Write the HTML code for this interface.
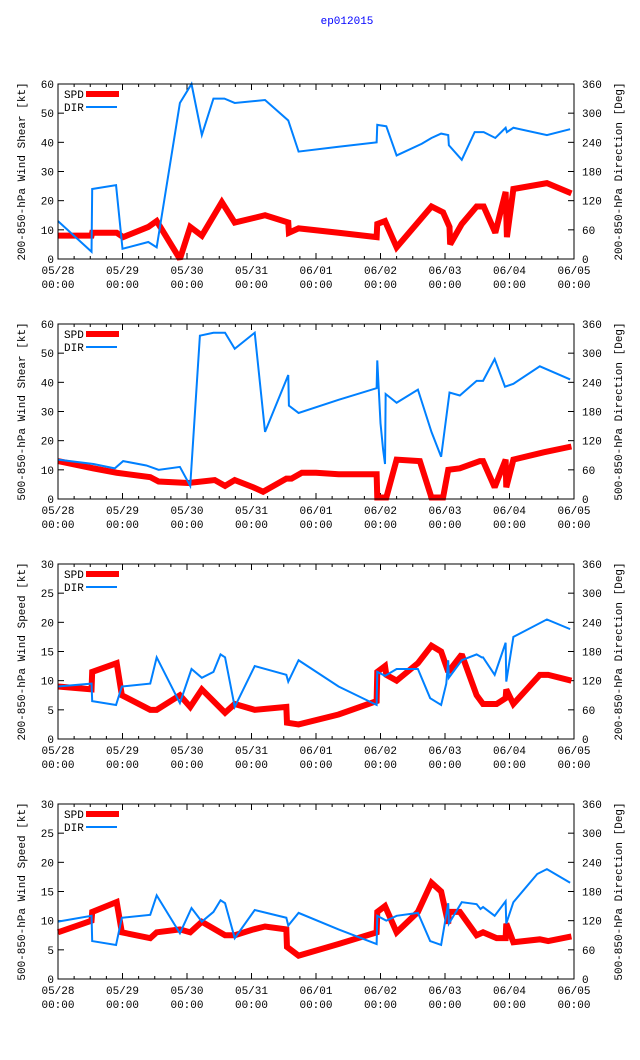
<!DOCTYPE html>
<html><head><meta charset="utf-8">
<style>
body{margin:0;background:#fff;}
svg{display:block;font-family:"Liberation Mono","DejaVu Sans Mono",monospace;font-size:11px;}
</style></head>
<body>
<svg id="chart" width="640" height="1060" viewBox="0 0 640 1060" xmlns="http://www.w3.org/2000/svg">
<rect width="640" height="1060" fill="#fff"/>
<text x="347" y="24" fill="#0000ff" text-anchor="middle">ep012015</text>
</svg>
<script>
// x tick labels
const xTickDates = ["05/28","05/29","05/30","05/31","06/01","06/02","06/03","06/04","06/05"];
const panelTitles = ["200-850-hPa Wind Shear [kt]","500-850-hPa Wind Shear [kt]","200-850-hPa Wind Speed [kt]","500-850-hPa Wind Speed [kt]"];
const panelMax = [60,60,30,30];
const rightTicks = [0,60,120,180,240,300,360];
// times in days since 05/28 00:00
const p1SpdT = [0,0.52,0.53,0.91,1.01,1.4,1.53,1.89,2.05,2.23,2.54,2.74,3.21,3.57,3.58,3.73,4.35,4.94,4.95,5.07,5.25,5.79,5.97,6.07,6.08,6.26,6.49,6.6,6.78,6.94,6.96,7.06,7.58,7.96];
const p1SpdV = [8,8,9,9,7.5,11,13,0,11,8,19.5,12.5,15,12.5,9,10.5,9,7.5,12,13,4,18,16,11,5,12,18,18,9,23,7.5,24,26,22.5];
const p1DirT = [0,0.52,0.53,0.9,1.0,1.4,1.53,1.89,2.07,2.23,2.41,2.58,2.74,3.21,3.57,3.73,4.35,4.94,4.95,5.09,5.25,5.64,5.79,5.94,6.05,6.06,6.26,6.46,6.6,6.78,6.94,6.96,7.06,7.58,7.94];
const p1DirV = [78,15,144,152,21,35,24,321,360,255,330,330,321,327,285,221,231,240,276,273,213,237,249,258,255,234,204,261,261,249,270,261,270,255,267];
const p2SpdT = [0,0.55,0.91,1.43,1.56,2.02,2.43,2.59,2.74,3.03,3.18,3.54,3.62,3.78,4.0,4.35,4.94,4.95,5.09,5.25,5.61,5.79,5.97,6.05,6.23,6.54,6.59,6.77,6.94,6.95,7.06,7.53,7.96];
const p2SpdV = [13,10.5,9,7.5,6,5.5,6.5,4.5,6.5,4,2.5,7,7,9,9,8.5,8.5,0.5,0.5,13.5,13,0.5,0.5,10,10.5,13,13,4,13.5,4,13.5,16,18];
const p2DirT = [0,0.55,0.88,1.01,1.37,1.56,1.89,2.05,2.2,2.41,2.59,2.74,3.05,3.21,3.57,3.58,3.73,4.35,4.94,4.95,5.0,5.04,5.07,5.08,5.25,5.58,5.79,5.94,6.07,6.23,6.49,6.59,6.77,6.93,7.06,7.47,7.94];
const p2DirV = [81,72,63,78,69,60,66,27,336,342,342,309,342,138,255,192,177,204,228,285,156,102,72,216,198,225,138,87,219,213,243,243,288,231,237,273,246];
const p3SpdT = [0,0.52,0.53,0.91,0.99,1.43,1.53,1.89,2.05,2.23,2.59,2.74,3.05,3.54,3.55,3.73,4.35,4.94,4.95,5.07,5.09,5.25,5.58,5.79,5.94,6.05,6.26,6.49,6.59,6.8,6.94,6.95,7.06,7.47,7.6,7.96];
const p3SpdV = [9,8.5,11.5,13,7.5,5,5,7.5,5.5,8.5,4.5,6,5,5.5,2.8,2.5,4.2,6.5,11.5,12.5,11,10,13,16,15,11.5,14.5,7.5,6,6,7,8.5,6,11,11,10];
const p3DirT = [0,0.52,0.53,0.9,0.99,1.43,1.53,1.89,2.07,2.23,2.41,2.52,2.59,2.74,3.05,3.54,3.57,3.73,4.35,4.94,4.95,5.07,5.25,5.58,5.77,5.94,6.02,6.05,6.06,6.26,6.49,6.57,6.59,6.77,6.94,6.95,7.06,7.58,7.94];
const p3DirV = [108,114,78,70,108,114,168,74,144,126,138,174,168,66,150,132,118,162,108,70,138,130,144,144,84,70,114,162,126,162,174,168,168,132,198,118,210,246,226];
const p4SpdT = [0,0.52,0.53,0.91,0.99,1.43,1.53,1.89,2.05,2.23,2.59,2.74,3.03,3.21,3.54,3.55,3.73,4.35,4.94,4.95,5.07,5.25,5.58,5.79,5.94,6.05,6.06,6.23,6.49,6.59,6.8,6.94,6.95,7.06,7.47,7.6,7.96];
const p4SpdV = [8,10,11.5,13.2,8,7,8,8.5,8,9.8,7.5,7.5,8.5,9,8.5,5.5,4,6,8,11.5,12.5,8,11.5,16.5,15,9.5,11.5,11.5,7.5,8,7,7,9.5,6.3,6.8,6.5,7.3];
const p4DirT = [0,0.52,0.53,0.9,0.99,1.43,1.53,1.89,2.07,2.23,2.41,2.52,2.59,2.74,3.05,3.54,3.57,3.73,4.35,4.94,4.95,5.09,5.25,5.58,5.77,5.94,6.05,6.06,6.26,6.49,6.55,6.59,6.77,6.94,6.95,7.06,7.43,7.58,7.94];
const p4DirV = [118,130,78,70,126,132,172,94,146,118,138,162,156,84,142,126,110,136,102,72,130,120,130,136,78,70,156,114,158,154,144,148,130,160,114,158,216,226,198];

const spdT=[p1SpdT,p2SpdT,p3SpdT,p4SpdT], spdV=[p1SpdV,p2SpdV,p3SpdV,p4SpdV];
const dirT=[p1DirT,p2DirT,p3DirT,p4DirT], dirV=[p1DirV,p2DirV,p3DirV,p4DirV];

const svg=document.getElementById('chart');
const NS='http://www.w3.org/2000/svg';
const L=58,R=574,H=175,tops=[84,324,564,804];
function mk(tag,attrs,parent){const e=document.createElementNS(NS,tag);for(const k in attrs)e.setAttribute(k,attrs[k]);(parent||svg).appendChild(e);return e;}
function xs(t){return L+t*(R-L)/8;}

for(let p=0;p<4;p++){
  const top=tops[p],bot=top+H,max=panelMax[p];
  const ys=v=>bot-v*H/max, yd=d=>bot-d*H/360;
  const g=mk('g',{});
  
  
  const step=max/6;
  for(let i=0;i<=6;i++){
    const v=i*step,y=ys(v);
    mk('line',{x1:L,x2:L+6,y1:y,y2:y,stroke:'#000'},g);
    const t=mk('text',{x:L-4,y:y+4,'text-anchor':'end'},g);t.textContent=v;
    
    
  }
  rightTicks.forEach(d=>{
    const y=yd(d);
    mk('line',{x1:R-6,x2:R,y1:y,y2:y,stroke:'#000'},g);
    const t=mk('text',{x:R+8,y:y+4},g);t.textContent=d;
    
    
  });
  for(let q=0;q<=32;q++){
    const x=xs(q/4),len=q%4===0?6:3;
    mk('line',{x1:x,x2:x,y1:bot,y2:bot-len,stroke:'#000'},g);
    mk('line',{x1:x,x2:x,y1:top,y2:top+len,stroke:'#000'},g);
  }
  xTickDates.forEach((d,i)=>{
    const x=xs(i);
    const t=mk('text',{x:x,y:bot+15,'text-anchor':'middle'},g);t.textContent=d;
    
    
    const t2=mk('text',{x:x,y:bot+29,'text-anchor':'middle'},g);t2.textContent='00:00';
    
    
  });
  const yt=mk('text',{x:0,y:0,'text-anchor':'middle',transform:`translate(25,${top+H/2}) rotate(-90)`},g);
  yt.textContent=panelTitles[p];
  
  
  const y2=mk('text',{x:0,y:0,'text-anchor':'middle',transform:`translate(622,${top+H/2}) rotate(-90)`},g);
  y2.textContent=(p%2?'500':'200')+'-850-hPa Direction [Deg]';
  
  
  const sp=mk('polyline',{points:spdT[p].map((t,i)=>xs(t)+','+ys(spdV[p][i])).join(' '),fill:'none',stroke:'#ff0000','stroke-width':6,'stroke-linejoin':'miter','stroke-miterlimit':2},g);
  
  
  const dr=mk('polyline',{points:dirT[p].map((t,i)=>xs(t)+','+yd(dirV[p][i])).join(' '),fill:'none',stroke:'#0080ff','stroke-width':2},g);
  
  
  const fr=mk('rect',{x:L,y:top,width:R-L,height:H,fill:'none',stroke:'#000'},g);
  
  
  const lg=mk('g',{},g);
  
  
  const a=mk('text',{x:64,y:top+14},lg);a.textContent='SPD';
  
  
  mk('line',{x1:86,x2:119,y1:top+10,y2:top+10,stroke:'#ff0000','stroke-width':6},lg);
  const b=mk('text',{x:64,y:top+27},lg);b.textContent='DIR';
  
  
  mk('line',{x1:86,x2:117,y1:top+23,y2:top+23,stroke:'#0080ff','stroke-width':2},lg);
}
</script>
</body></html>
